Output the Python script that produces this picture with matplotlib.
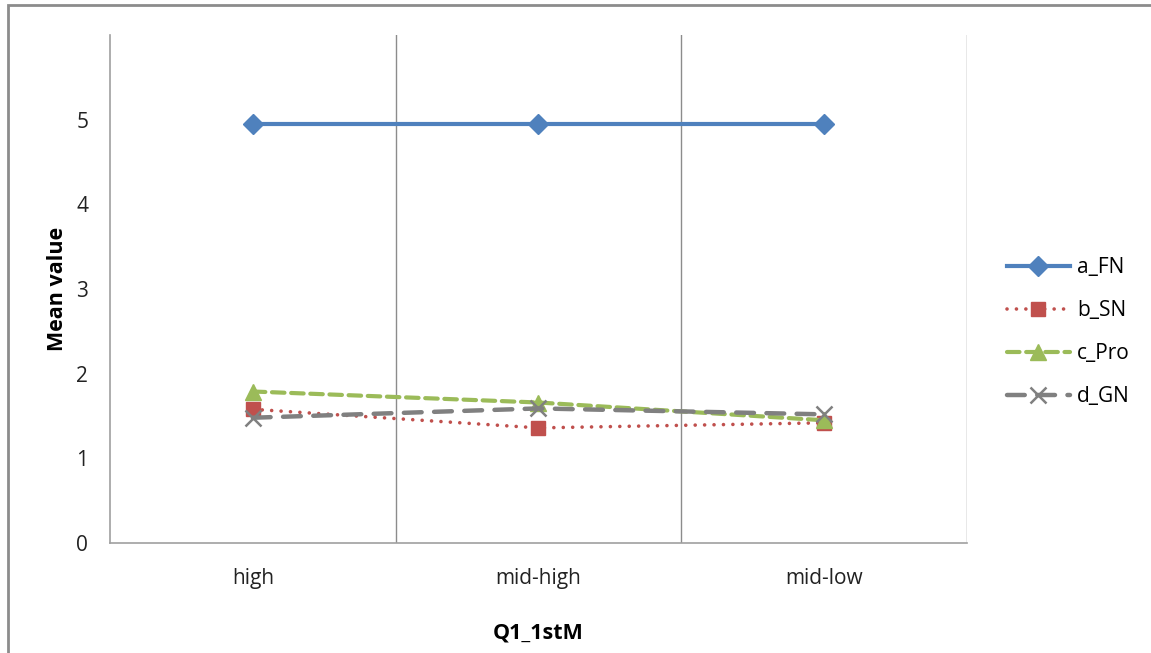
import numpy as np
import matplotlib.pyplot as plt
from matplotlib.patches import Rectangle

# 分组与各指标均值
categories = ['high', 'mid-high', 'mid-low']
a_FN = [4.95, 4.95, 4.95]
b_SN = [1.58, 1.36, 1.42]
c_Pro = [1.79, 1.66, 1.45]
d_GN = [1.48, 1.59, 1.52]

plt.rcParams['font.family'] = ['Open Sans', 'DejaVu Sans']

fig = plt.figure(figsize=(11.51, 6.53), dpi=100)
ax = fig.add_axes([0.0956, 0.1685, 0.7444, 0.7775])

x = np.arange(len(categories))
ax.plot(x, a_FN, color='#4F81BD', lw=3, marker='D', markersize=10.5, label='a_FN')
ax.plot(x, b_SN, color='#C0504D', lw=2.6, linestyle=(0, (0.01, 2.6)), dash_capstyle='round',
        marker='s', markersize=10.5, label='b_SN')
ax.plot(x, c_Pro, color='#9BBB59', lw=3, linestyle=(0, (3, 1.6)), dash_capstyle='round',
        marker='^', markersize=11.5, label='c_Pro')
ax.plot(x, d_GN, color='#808080', lw=3.2, linestyle=(0, (4, 2.8)), dash_capstyle='round',
        marker='x', markersize=12, markeredgewidth=1.8, label='d_GN')

ax.set_xlim(-0.5, 2.5)
ax.set_ylim(0, 6)
ax.set_xticks(x)
ax.set_xticklabels(categories)
ax.set_yticks(range(6))
ax.tick_params(length=0, labelsize=15, colors='#222222')
ax.tick_params(axis='y', pad=20)
ax.tick_params(axis='x', pad=18)
for t in ax.get_yticklabels():
    t.set_horizontalalignment('center')

# 分类之间的竖线
for b in [0.5, 1.5, 2.5]:
    ax.axvline(b, color='#8C8C8C', lw=1, zorder=0)

for s in ['top', 'right']:
    ax.spines[s].set_visible(False)
for s in ['left', 'bottom']:
    ax.spines[s].set_color('#A0A0A0')
    ax.spines[s].set_linewidth(1.2)

ax.set_ylabel('Mean value', fontsize=15.5, fontweight='bold', labelpad=6)
ax.set_xlabel('Q1_1stM', fontsize=15.5, fontweight='bold', labelpad=24)

ax.legend(loc='center left', bbox_to_anchor=(1.025, 0.415), frameon=False, fontsize=15,
          handlelength=3.0, labelspacing=1.05, handletextpad=0.35)

# 外框
fig.patches.append(Rectangle((0.007, -0.1), 1.1, 1.092, transform=fig.transFigure,
                             fill=False, edgecolor='#8C8C8C', lw=2))

plt.savefig('out.png')
